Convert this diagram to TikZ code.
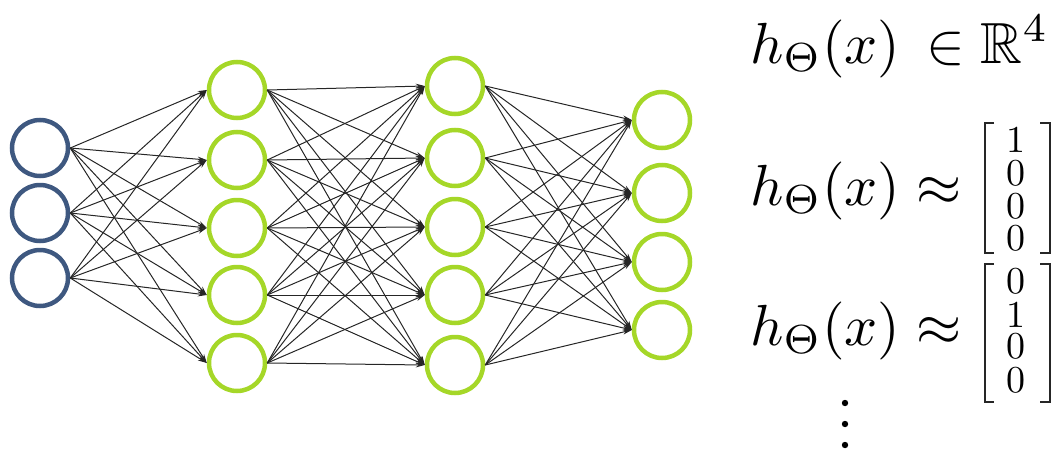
\documentclass[tikz,border=0pt]{standalone}
\usepackage{graphicx}
\usepackage{amsmath,amssymb}
\usetikzlibrary{arrows.meta}
\definecolor{inblue}{RGB}{62,88,128}
\definecolor{lgreen}{RGB}{165,215,40}
\newcommand{\myBigMath}[1]{\scalebox{5.8}{#1}}
\newcommand{\myDigit}[1]{\scalebox{3.8}{#1}}
\tikzset{
 neuron/.style={circle, draw, line width=4.5pt, minimum size=56pt, inner sep=0pt},
 inneuron/.style={neuron, draw=inblue},
 gneuron/.style={neuron, draw=lgreen},
 conn/.style={draw=black!85, line width=1pt, -{Stealth[length=9pt,width=5pt]}},
 bigmath/.style={anchor=base west, inner sep=0pt},
 digit/.style={anchor=base, inner sep=0pt},
 bracket/.style={line width=2.5pt, draw=black!85},
 dotmark/.style={fill=black}
}
\begin{document}
\begin{tikzpicture}[x=1pt,y=-1pt]
\useasboundingbox (0,0) rectangle (1058,450);
% input layer
\node[inneuron] (i1) at (40,148) {};
\node[inneuron] (i2) at (40,213) {};
\node[inneuron] (i3) at (40,278) {};
% hidden layer 1
\node[gneuron] (a1) at (237,90) {};
\node[gneuron] (a2) at (237,160) {};
\node[gneuron] (a3) at (237,228) {};
\node[gneuron] (a4) at (237,295) {};
\node[gneuron] (a5) at (237,363) {};
% hidden layer 2
\node[gneuron] (b1) at (455,86) {};
\node[gneuron] (b2) at (455,158) {};
\node[gneuron] (b3) at (455,227) {};
\node[gneuron] (b4) at (455,295) {};
\node[gneuron] (b5) at (455,365) {};
% output layer
\node[gneuron] (o1) at (662,120) {};
\node[gneuron] (o2) at (662,193) {};
\node[gneuron] (o3) at (662,262) {};
\node[gneuron] (o4) at (662,330) {};
% connections
\foreach \s in {1,2,3}{\foreach \t in {1,...,5}{\draw[conn] (i\s.east) -- (a\t.west);}}
\foreach \s in {1,...,5}{\foreach \t in {1,...,5}{\draw[conn] (a\s.east) -- (b\t.west);}}
\foreach \s in {1,...,5}{\foreach \t in {1,...,4}{\draw[conn] (b\s.east) -- (o\t.west);}}
% formulas
\node[bigmath] (t1) at (750,63) {\myBigMath{$h_\Theta(x) \mathrel{\,\in} \mathbb{R}^4$}};
\node[bigmath] (t2) at (750,205) {\myBigMath{$h_\Theta(x) \approx$}};
\node[bigmath] (t3) at (750,345) {\myBigMath{$h_\Theta(x) \approx$}};
% matrix 1
\draw[bracket] (994,123) -- (985,123) -- (985,253) -- (994,253);
\draw[bracket] (1040,123) -- (1050,123) -- (1050,253) -- (1040,253);
\node[digit] (m11) at (1016,152) {\myDigit{1}};
\node[digit] (m12) at (1016,185) {\myDigit{0}};
\node[digit] (m13) at (1016,218) {\myDigit{0}};
\node[digit] (m14) at (1016,250) {\myDigit{0}};
% matrix 2
\draw[bracket] (994,264) -- (985,264) -- (985,402) -- (994,402);
\draw[bracket] (1040,264) -- (1050,264) -- (1050,402) -- (1040,402);
\node[digit] (m21) at (1016,293) {\myDigit{0}};
\node[digit] (m22) at (1016,327) {\myDigit{1}};
\node[digit] (m23) at (1016,358) {\myDigit{0}};
\node[digit] (m24) at (1016,392) {\myDigit{0}};
% vertical dots
\fill[dotmark] (845,403) circle (3.2);
\fill[dotmark] (845,424) circle (3.2);
\fill[dotmark] (845,445) circle (3.2);
\end{tikzpicture}
\end{document}
